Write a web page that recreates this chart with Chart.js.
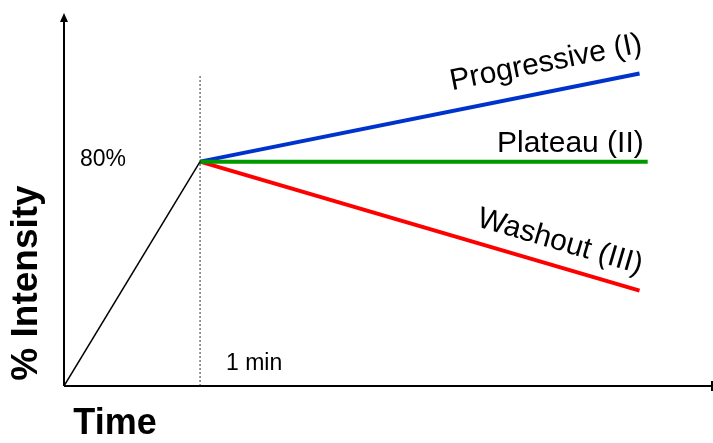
<!DOCTYPE html>
<html>
<head>
<meta charset="utf-8">
<script src="https://cdn.jsdelivr.net/npm/chart.js@4.4.1/dist/chart.umd.min.js"></script>
<style>
  html, body { margin: 0; padding: 0; background: #fff; }
  #wrap { width: 713px; height: 443px; position: relative; }
</style>
</head>
<body>
<div id="wrap"><canvas id="c"></canvas></div>
<script>
// time in minutes, intensity in %
const rampX = [0, 1];
const rampY = [0, 80];
const progressiveX = [1, 4.23];
const progressiveY = [80, 111.4];
const plateauX = [1, 4.29];
const plateauY = [80, 80];
const washoutX = [1, 4.23];
const washoutY = [80, 34];
const markerX = [1, 1];
const markerY = [0, 111];

const xMax = 4.77;
const yMax = 133;

const pts = (xs, ys) => xs.map((x, i) => ({ x: x, y: ys[i] }));

const FONT = '"Liberation Sans", Arial, sans-serif';

const decor = {
  id: 'decor',
  afterDatasetsDraw(chart) {
    const ctx = chart.ctx;
    const a = chart.chartArea;
    const xs = chart.scales.x, ys = chart.scales.y;
    ctx.save();
    ctx.strokeStyle = '#000';
    ctx.fillStyle = '#000';
    ctx.lineWidth = 2;
    // axes
    ctx.beginPath();
    ctx.moveTo(a.left, a.bottom);
    ctx.lineTo(a.right, a.bottom);
    ctx.moveTo(a.left, a.bottom);
    ctx.lineTo(a.left, a.top + 4);
    ctx.stroke();
    // y arrowhead
    ctx.beginPath();
    ctx.moveTo(a.left, a.top);
    ctx.lineTo(a.left - 4, a.top + 9);
    ctx.lineTo(a.left + 4, a.top + 9);
    ctx.closePath();
    ctx.fill();
    // x arrow end
    ctx.beginPath();
    ctx.moveTo(a.right - 1, a.bottom - 5);
    ctx.lineTo(a.right - 1, a.bottom + 5);
    ctx.stroke();

    // labels
    ctx.font = '23px ' + FONT;
    ctx.textBaseline = 'alphabetic';
    ctx.textAlign = 'left';
    ctx.fillText('80%', 80, 166);
    ctx.fillText('1 min', 226, 370);
    ctx.font = '30px ' + FONT;
    ctx.fillText('Plateau (II)', 497, 152);

    const rot = (text, cx, cy, ang) => {
      ctx.save();
      ctx.translate(cx, cy);
      ctx.rotate(ang);
      ctx.textAlign = 'center';
      ctx.textBaseline = 'middle';
      ctx.fillText(text, 0, 0);
      ctx.restore();
    };
    const pAng = Math.atan2(ys.getPixelForValue(progressiveY[1]) - ys.getPixelForValue(progressiveY[0]),
      xs.getPixelForValue(progressiveX[1]) - xs.getPixelForValue(progressiveX[0]));
    const wAng = Math.atan2(ys.getPixelForValue(washoutY[1]) - ys.getPixelForValue(washoutY[0]),
      xs.getPixelForValue(washoutX[1]) - xs.getPixelForValue(washoutX[0]));
    rot('Progressive (I)', 546, 63, pAng);
    rot('Washout (III)', 560, 242, wAng);

    ctx.font = 'bold 37px ' + FONT;
    ctx.save();
    ctx.translate(27, 283);
    ctx.rotate(-Math.PI / 2);
    ctx.textAlign = 'center';
    ctx.textBaseline = 'middle';
    ctx.fillText('% Intensity', 0, 0);
    ctx.restore();
    ctx.font = 'bold 36px ' + FONT;
    ctx.textAlign = 'center';
    ctx.textBaseline = 'middle';
    ctx.fillText('Time', 115, 424);
    ctx.restore();
  }
};

new Chart(document.getElementById('c'), {
  type: 'line',
  data: {
    datasets: [
      { data: pts(markerX, markerY), borderColor: '#333', borderWidth: 1, borderDash: [2, 2], pointRadius: 0 },
      { data: pts(rampX, rampY), borderColor: '#000', borderWidth: 1.5, pointRadius: 0 },
      { data: pts(plateauX, plateauY), borderColor: '#009900', borderWidth: 4, pointRadius: 0 },
      { data: pts(progressiveX, progressiveY), borderColor: '#0033cc', borderWidth: 4, pointRadius: 0 },
      { data: pts(washoutX, washoutY), borderColor: '#ff0000', borderWidth: 4, pointRadius: 0 }
    ]
  },
  options: {
    responsive: true,
    maintainAspectRatio: false,
    animation: false,
    layout: { padding: { left: 64, top: 13, right: 0, bottom: 57 } },
    plugins: { legend: { display: false }, tooltip: { enabled: false } },
    scales: {
      x: { type: 'linear', min: 0, max: xMax, display: false },
      y: { min: 0, max: yMax, display: false }
    }
  },
  plugins: [decor]
});
</script>
</body>
</html>
